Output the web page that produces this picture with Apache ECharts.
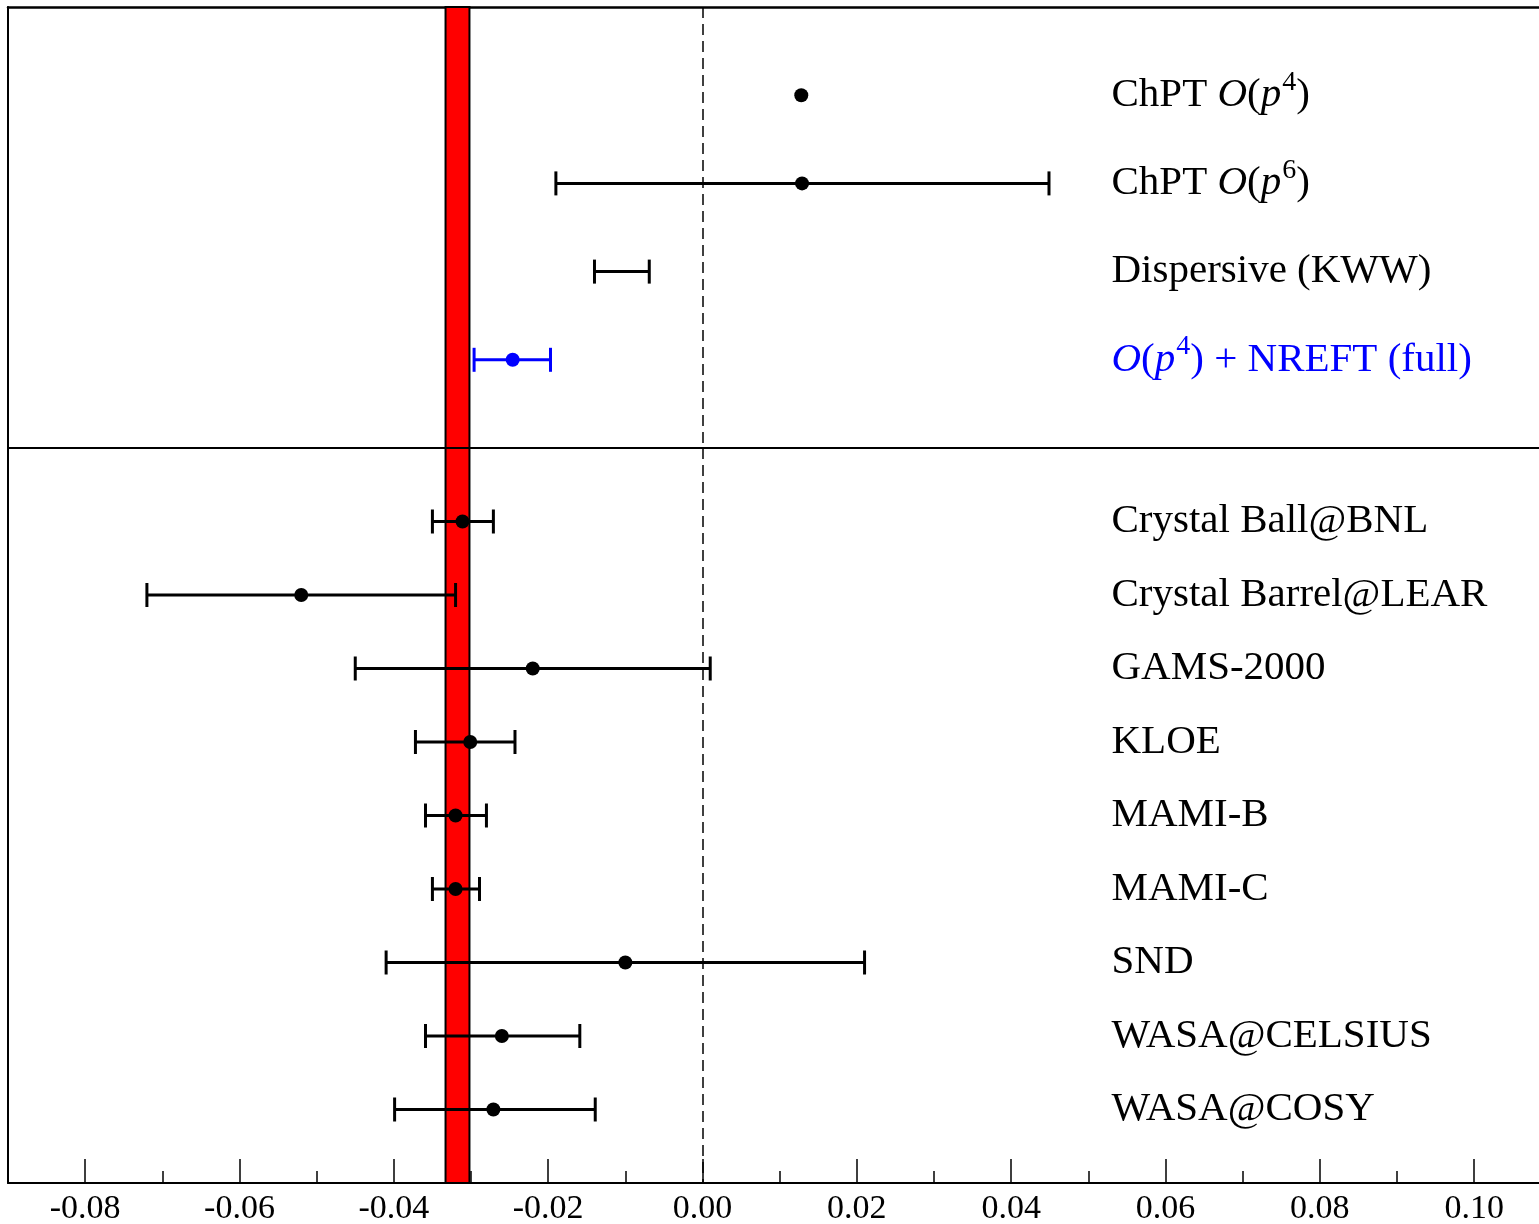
<!DOCTYPE html>
<html>
<head>
<meta charset="utf-8">
<script src="https://cdn.jsdelivr.net/npm/echarts@6/dist/echarts.min.js"></script>
<style>html,body{margin:0;padding:0;background:#fff}#c{width:1539px;height:1224px}</style>
</head>
<body>
<div id="c"></div>
<script>
// ---- data ----
var topLabels = [
  'ChPT {i|O}({i|p}{s|4})',
  'ChPT {i|O}({i|p}{s|6})',
  'Dispersive (KWW)',
  '{bi|O}({bi|p}{bs|4}{b|) + NREFT (full)}'
];
var topCenter = [0.0128, 0.0129, null, -0.0246];
var topLow    = [null, -0.0190, -0.0140, -0.0296];
var topHigh   = [null, 0.0449, -0.0069, -0.0197];

var expNames = ['Crystal Ball@BNL', 'Crystal Barrel@LEAR', 'GAMS-2000', 'KLOE', 'MAMI-B', 'MAMI-C', 'SND', 'WASA@CELSIUS', 'WASA@COSY'];
var expCenter = [-0.0311, -0.0520, -0.0220, -0.0301, -0.0320, -0.0320, -0.0100, -0.0260, -0.0271];
var expLow    = [-0.0350, -0.0720, -0.0450, -0.0372, -0.0359, -0.0350, -0.0410, -0.0359, -0.0399];
var expHigh   = [-0.0271, -0.0320, 0.0010, -0.0243, -0.0280, -0.0289, 0.0210, -0.0159, -0.0139];

var bandRange = [-0.0333, -0.0302];
var majorTicks = [-0.08, -0.06, -0.04, -0.02, 0.00, 0.02, 0.04, 0.06, 0.08, 0.10];
var minorTicks = [-0.07, -0.05, -0.03, -0.01, 0.01, 0.03, 0.05, 0.07, 0.09];
var xMin = -0.09, xMax = 0.1084;
var labelX = 0.053;

// ---- styles ----
var FONT = '"Liberation Serif", "Times New Roman", serif';
var BLUE = '#0000ff';
var highlightTop = 3;
var LFS = 41;

var rich = {
  i: {fontFamily: FONT, fontSize: LFS, fontStyle: 'italic', color: '#000'},
  s: {fontFamily: FONT, fontSize: 28, color: '#000', padding: [0, 0, 26, 1]},
  b: {fontFamily: FONT, fontSize: LFS, color: BLUE},
  bi: {fontFamily: FONT, fontSize: LFS, fontStyle: 'italic', color: BLUE},
  bs: {fontFamily: FONT, fontSize: 28, color: BLUE, padding: [0, 0, 26, 1]}
};

function errData(lo, hi, isTop) {
  var out = [];
  for (var k = 0; k < lo.length; k++) {
    if (lo[k] == null) continue;
    out.push({value: [lo[k], hi[k], k + 1], itemStyle: {color: (isTop && k === highlightTop) ? BLUE : '#000'}});
  }
  return out;
}
function ptData(c, isTop) {
  var out = [];
  for (var k = 0; k < c.length; k++) {
    if (c[k] == null) continue;
    out.push({value: [c[k], k + 1], itemStyle: {color: (isTop && k === highlightTop) ? BLUE : '#000', opacity: 1}});
  }
  return out;
}
function lblData(names, isTop) {
  return names.map(function (n, k) {
    return {value: [labelX, k + 1], label: {formatter: n, color: (isTop && k === highlightTop) ? BLUE : '#000'}};
  });
}

function renderErr(params, api) {
  var y = api.value(2);
  var p1 = api.coord([api.value(0), y]);
  var p2 = api.coord([api.value(1), y]);
  var col = api.visual('color');
  var st = {stroke: col, lineWidth: 3};
  var h = 12;
  return {
    type: 'group',
    children: [
      {type: 'line', shape: {x1: p1[0], y1: p1[1], x2: p2[0], y2: p2[1]}, style: st},
      {type: 'line', shape: {x1: p1[0], y1: p1[1] - h, x2: p1[0], y2: p1[1] + h}, style: st},
      {type: 'line', shape: {x1: p2[0], y1: p2[1] - h, x2: p2[0], y2: p2[1] + h}, style: st}
    ]
  };
}

function bandSeries(gi) {
  return {
    type: 'scatter', xAxisIndex: gi, yAxisIndex: gi, data: [], silent: true, z: 1,
    markArea: {
      silent: true,
      itemStyle: {color: '#ff0000', borderColor: '#000', borderWidth: 2, opacity: 1},
      data: [[{xAxis: bandRange[0]}, {xAxis: bandRange[1]}]]
    },
    markLine: {
      silent: true, symbol: ['none', 'none'], label: {show: false},
      lineStyle: {color: '#000', width: 1.5, type: [11, 6], opacity: 1},
      data: [{xAxis: 0}]
    }
  };
}

var grids = [
  {left: 8, right: 0, top: 7, height: 441, outerBoundsMode: 'none', containLabel: false},
  {left: 8, right: 0, top: 448, height: 735, outerBoundsMode: 'none', containLabel: false},
  {left: 8, right: 0, top: 448, height: 735, outerBoundsMode: 'none', containLabel: false}
];

function blankX(gi, pos, lineW) {
  return {type: 'value', gridIndex: gi, min: xMin, max: xMax, position: pos,
    axisLine: {show: lineW > 0, onZero: false, lineStyle: {color: '#000', width: lineW}},
    axisTick: {show: false}, axisLabel: {show: false}, splitLine: {show: false}};
}

var option = {
  animation: false,
  backgroundColor: '#fff',
  grid: grids,
  xAxis: [
    blankX(0, 'top', 2.5),
    {
      type: 'value', gridIndex: 1, min: xMin, max: xMax, position: 'bottom',
      axisLine: {show: true, onZero: false, lineStyle: {color: '#000', width: 2}},
      axisTick: {show: true, inside: true, length: 24, customValues: majorTicks, lineStyle: {color: '#000', width: 1.5}},
      axisLabel: {show: true, customValues: majorTicks, margin: 9, fontFamily: FONT, fontSize: 34, color: '#000',
        formatter: function (v) { return v.toFixed(2); }},
      splitLine: {show: false}
    },
    {
      type: 'value', gridIndex: 2, min: xMin, max: xMax, position: 'bottom',
      axisLine: {show: false, onZero: false},
      axisTick: {show: true, inside: true, length: 12, customValues: minorTicks, lineStyle: {color: '#000', width: 1.5}},
      axisLabel: {show: false},
      splitLine: {show: false}
    },
    blankX(1, 'top', 2)
  ],
  yAxis: [
    {type: 'value', gridIndex: 0, min: 0, max: 5, inverse: true, position: 'left',
      axisLine: {show: true, onZero: false, lineStyle: {color: '#000', width: 2}}, axisTick: {show: false}, axisLabel: {show: false}, splitLine: {show: false}},
    {type: 'value', gridIndex: 1, min: 0, max: 10, inverse: true, position: 'left',
      axisLine: {show: true, onZero: false, lineStyle: {color: '#000', width: 2}}, axisTick: {show: false}, axisLabel: {show: false}, splitLine: {show: false}},
    {type: 'value', gridIndex: 2, min: 0, max: 10, inverse: true, show: false}
  ],
  series: [
    bandSeries(0),
    bandSeries(1),
    {type: 'custom', xAxisIndex: 0, yAxisIndex: 0, renderItem: renderErr, encode: {x: [0, 1], y: 2}, data: errData(topLow, topHigh, true), z: 3, silent: true, clip: false},
    {type: 'custom', xAxisIndex: 1, yAxisIndex: 1, renderItem: renderErr, encode: {x: [0, 1], y: 2}, data: errData(expLow, expHigh, false), z: 3, silent: true, clip: false},
    {type: 'scatter', xAxisIndex: 0, yAxisIndex: 0, symbol: 'circle', symbolSize: 14, itemStyle: {opacity: 1}, data: ptData(topCenter, true), z: 4, silent: true},
    {type: 'scatter', xAxisIndex: 1, yAxisIndex: 1, symbol: 'circle', symbolSize: 14, itemStyle: {opacity: 1}, data: ptData(expCenter, false), z: 4, silent: true},
    {type: 'scatter', xAxisIndex: 0, yAxisIndex: 0, symbolSize: 0, z: 5, silent: true, itemStyle: {opacity: 1},
      label: {show: true, position: 'right', distance: 0, offset: [0, 0], fontFamily: FONT, fontSize: LFS, color: '#000', rich: rich},
      data: lblData(topLabels, true)},
    {type: 'scatter', xAxisIndex: 1, yAxisIndex: 1, symbolSize: 0, z: 5, silent: true, itemStyle: {opacity: 1},
      label: {show: true, position: 'right', distance: 0, offset: [0, 0], fontFamily: FONT, fontSize: LFS, color: '#000', rich: rich},
      data: lblData(expNames, false)}
  ]
};

var chart = echarts.init(document.getElementById('c'), null, {renderer: 'canvas'});
chart.setOption(option);
</script>
</body>
</html>
